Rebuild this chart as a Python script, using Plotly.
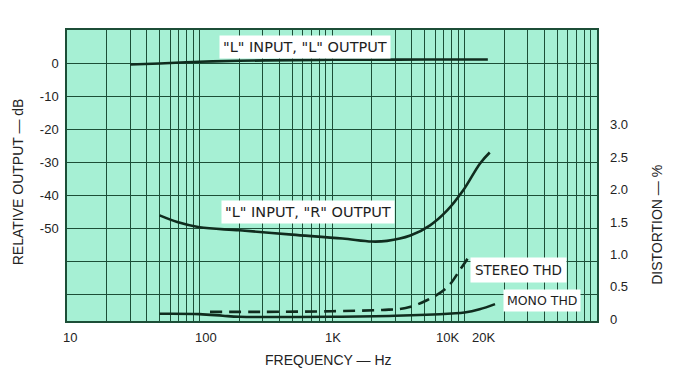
import numpy as np
import plotly.graph_objects as go

# ---- data ----
ll_freq = [30, 50, 100, 200, 500, 1000, 2000, 5000, 10000, 15000]
ll_db = [-0.4, -0.1, 0.4, 0.7, 0.9, 1.0, 1.0, 1.1, 1.1, 1.1]

lr_freq = [50, 68, 100, 200, 500, 1200, 2000, 2600, 3900, 5500, 7400, 9750, 13100, 15500]
lr_db = [-46.0, -48.0, -49.6, -50.5, -51.8, -53.0, -53.9, -53.7, -52.1, -49.0, -44.5, -38.5, -30.3, -27.0]

stereo_freq = [120, 300, 1000, 2400, 3600, 5200, 7400, 9250, 11000]
stereo_thd = [0.11, 0.11, 0.12, 0.14, 0.17, 0.29, 0.49, 0.76, 0.99]

mono_freq = [50, 100, 150, 200, 1000, 3000, 8000, 10000, 13000, 17000]
mono_thd = [0.08, 0.075, 0.05, 0.035, 0.035, 0.05, 0.085, 0.10, 0.15, 0.23]

x_grid_vals = [m * 10 ** e for e in range(1, 5) for m in range(1, 10)] + [100000]
x_tick_vals = [10, 100, 1000, 10000, 20000]
x_tick_labels = ["10", "100", "1K", "10K", "20K"]
x_label_shift = [3, 6, 1, -17, -21]

y_tick_vals = [0, -10, -20, -30, -40, -50, -60, -70]
y_tick_labels = ["0", "-10", "-20", "-30", "-40", "-50", "", ""]

y2_tick_vals = [0, 0.5, 1.0, 1.5, 2.0, 2.5, 3.0]
y2_tick_labels = ["0", "0.5", "1.0", "1.5", "2.0", "2.5", "3.0"]

curve_labels = ['"L" INPUT, "L" OUTPUT', '"L" INPUT, "R" OUTPUT', "STEREO THD", "MONO THD"]

# ---- style ----
BG = "rgb(166,240,212)"
GRID = "rgb(28,78,55)"
INK = "rgb(16,44,30)"
FONT = "Liberation Sans, Arial, sans-serif"
LFONT = "DejaVu Sans, Verdana, sans-serif"

fig = go.Figure()

fig.add_trace(go.Scatter(x=ll_freq, y=ll_db, mode="lines", line=dict(color=INK, width=2.6, shape="spline"),
                         showlegend=False))
fig.add_trace(go.Scatter(x=lr_freq, y=lr_db, mode="lines", line=dict(color=INK, width=2.6, shape="spline"),
                         showlegend=False))
fig.add_trace(go.Scatter(x=stereo_freq, y=stereo_thd, mode="lines", yaxis="y2",
                         line=dict(color=INK, width=2.6, dash="12px,7px", shape="spline"), showlegend=False))
fig.add_trace(go.Scatter(x=mono_freq, y=mono_thd, mode="lines", yaxis="y2",
                         line=dict(color=INK, width=2.6, shape="spline"), showlegend=False))

fig.update_layout(
    width=676, height=377,
    margin=dict(l=67, r=79, t=30, b=56),
    paper_bgcolor="white",
    plot_bgcolor=BG,
    font=dict(family=FONT, color="rgb(35,35,35)", size=13),
    xaxis=dict(type="log", range=[1, 5], tickvals=x_grid_vals, ticktext=[""] * len(x_grid_vals),
               showgrid=True, gridcolor=GRID, gridwidth=1.2, zeroline=False,
               showline=True, linecolor=GRID, linewidth=1.5, mirror=True, ticks=""),
    yaxis=dict(range=[-77.9, 10], tickvals=y_tick_vals, ticktext=y_tick_labels,
               showgrid=True, gridcolor=GRID, gridwidth=1.2, zeroline=False,
               showline=True, linecolor=GRID, linewidth=1.5, mirror=True, ticks="",
               ticklabelstandoff=4, tickfont=dict(size=13)),
    yaxis2=dict(overlaying="y", side="right", range=[-0.031, 4.467], tickvals=y2_tick_vals,
                ticktext=y2_tick_labels, showgrid=False, zeroline=False, showline=False, ticks="",
                ticklabelstandoff=12, tickfont=dict(size=13)),
)

# x tick labels as annotations
for v, t, s in zip(x_tick_vals, x_tick_labels, x_label_shift):
    fig.add_annotation(x=np.log10(v), y=0, yref="paper", yshift=-16, xshift=s, text=t,
                       xanchor="center", yanchor="middle", showarrow=False, font=dict(size=13))

# axis titles
fig.add_annotation(x=-0.0925, y=0.48, xref="paper", yref="paper", text="RELATIVE OUTPUT — dB",
                   textangle=-90, showarrow=False, xanchor="center", yanchor="middle",
                   font=dict(size=14))
fig.add_annotation(x=1.113, y=0.33, xref="paper", yref="paper", text="DISTORTION — %",
                   textangle=-90, showarrow=False, xanchor="center", yanchor="middle",
                   font=dict(size=14))
fig.add_annotation(x=0.5, y=0, xref="paper", yref="paper", yshift=-39, xshift=-4,
                   text="FREQUENCY — Hz", showarrow=False, xanchor="center", yanchor="middle",
                   font=dict(size=14))

# curve labels
def lab_font(size):
    return dict(family=LFONT, size=size, color="rgb(30,30,30)")

fig.add_annotation(x=np.log10(625), y=5.0, text=curve_labels[0], showarrow=False,
                   xanchor="center", yanchor="middle", bgcolor="white", borderpad=3,
                   font=lab_font(14.5))
fig.add_annotation(x=np.log10(659), y=-45.1, text=curve_labels[1], showarrow=False,
                   xanchor="center", yanchor="middle", bgcolor="white", borderpad=3,
                   font=lab_font(14.5))
fig.add_annotation(x=np.log10(25400), y=0.76, yref="y2", text=curve_labels[2], showarrow=False,
                   xanchor="center", yanchor="middle", bgcolor="white", borderpad=4,
                   font=lab_font(13.5))
fig.add_annotation(x=np.log10(38500), y=0.29, yref="y2", text=curve_labels[3], showarrow=False,
                   xanchor="center", yanchor="middle", bgcolor="white", borderpad=3,
                   font=lab_font(12.5))

fig.write_html("out.html", config={"displayModeBar": False},
               post_script="document.body.style.margin='0';")
